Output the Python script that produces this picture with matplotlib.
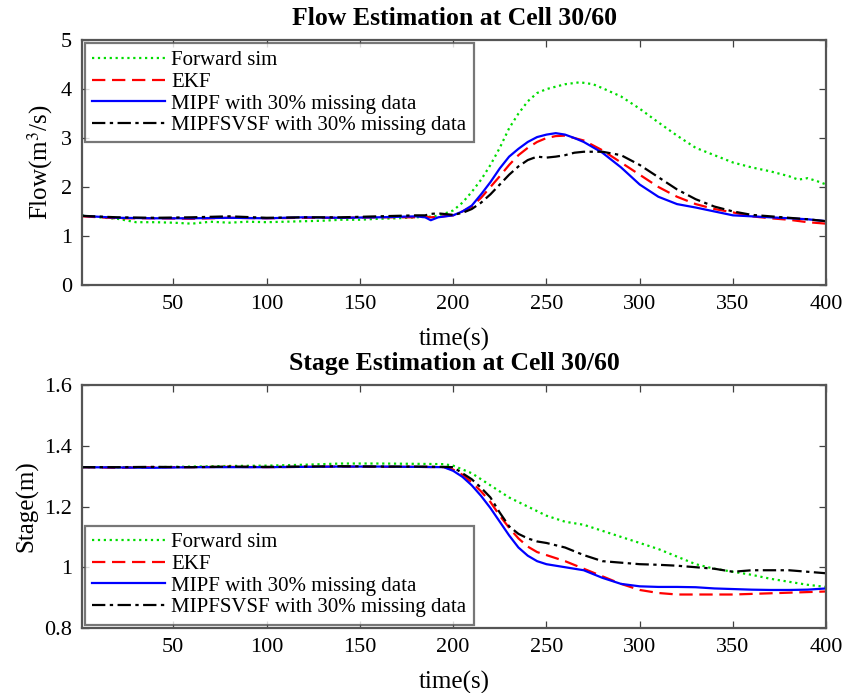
import matplotlib
matplotlib.use("Agg")
import matplotlib.pyplot as plt

plt.rcParams['font.family'] = ['Liberation Serif', 'DejaVu Serif']
plt.rcParams['mathtext.fontset'] = 'stix'

# --- Flow data (m^3/s) ---
t_fwd_q = [1, 10, 20, 30, 40, 50, 60, 70, 80, 90, 100, 110, 120, 130, 140, 150, 160, 170, 180, 190, 195,
           200, 205, 210, 215, 220, 225, 230, 235, 240, 245, 250, 255, 260, 268, 275, 280, 290, 300,
           310, 320, 330, 340, 350, 360, 370, 380, 385, 390, 395, 400]
q_fwd = [1.42, 1.38, 1.35, 1.28, 1.28, 1.27, 1.25, 1.29, 1.27, 1.29, 1.28, 1.29, 1.30, 1.31, 1.33, 1.33, 1.35, 1.36, 1.38, 1.40, 1.45,
         1.52, 1.68, 1.90, 2.15, 2.45, 2.80, 3.20, 3.50, 3.75, 3.92, 4.00, 4.05, 4.10, 4.14, 4.10, 4.02, 3.85, 3.60,
         3.32, 3.05, 2.80, 2.65, 2.50, 2.40, 2.32, 2.22, 2.15, 2.18, 2.12, 2.05]

t_est_q = [1, 20, 40, 60, 80, 100, 120, 140, 160, 180, 185, 188, 192, 200, 205, 210, 215, 220, 225, 230, 235,
           240, 245, 250, 255, 260, 265, 270, 280, 290, 300, 310, 320, 330, 340, 350, 360, 370, 380, 390, 400]
q_ekf = [1.40, 1.36, 1.36, 1.35, 1.37, 1.36, 1.37, 1.37, 1.38, 1.38, 1.39, 1.38, 1.39, 1.42, 1.50, 1.60, 1.78, 2.00, 2.22, 2.45, 2.65,
         2.80, 2.92, 3.00, 3.04, 3.05, 3.00, 2.95, 2.75, 2.50, 2.25, 2.00, 1.80, 1.65, 1.55, 1.48, 1.40, 1.36, 1.33, 1.28, 1.25]
q_mipf = [1.41, 1.37, 1.36, 1.36, 1.37, 1.36, 1.38, 1.37, 1.38, 1.40, 1.38, 1.32, 1.38, 1.42, 1.50, 1.62, 1.85, 2.10, 2.38, 2.62, 2.78,
          2.92, 3.02, 3.07, 3.10, 3.07, 3.00, 2.92, 2.70, 2.40, 2.05, 1.80, 1.65, 1.58, 1.50, 1.42, 1.40, 1.38, 1.36, 1.34, 1.30]
q_svsf = [1.41, 1.38, 1.37, 1.38, 1.40, 1.37, 1.38, 1.38, 1.40, 1.42, 1.42, 1.45, 1.46, 1.43, 1.47, 1.55, 1.68, 1.85, 2.05, 2.25, 2.42,
          2.55, 2.62, 2.60, 2.62, 2.65, 2.70, 2.72, 2.72, 2.65, 2.45, 2.20, 1.95, 1.75, 1.60, 1.50, 1.43, 1.40, 1.37, 1.34, 1.30]

# --- Stage data (m) ---
t_fwd_h = [1, 20, 40, 60, 80, 100, 120, 140, 160, 180, 195, 200, 210, 220, 230, 240, 250, 260, 270, 280, 290,
           300, 310, 320, 330, 340, 350, 360, 370, 380, 390, 400]
h_fwd = [1.330, 1.330, 1.330, 1.332, 1.334, 1.335, 1.338, 1.342, 1.342, 1.341, 1.340, 1.335, 1.310, 1.270, 1.230, 1.200, 1.170, 1.150, 1.140, 1.120, 1.100,
         1.080, 1.060, 1.035, 1.010, 0.995, 0.985, 0.975, 0.962, 0.952, 0.942, 0.935]

t_est_h = [1, 20, 40, 60, 80, 100, 120, 140, 160, 180, 195, 200, 205, 210, 215, 220, 225, 230, 235, 240, 245,
           250, 260, 270, 280, 290, 300, 310, 320, 330, 340, 350, 360, 370, 380, 390, 400]
h_ekf = [1.330, 1.328, 1.330, 1.330, 1.331, 1.330, 1.331, 1.332, 1.331, 1.331, 1.330, 1.322, 1.305, 1.280, 1.250, 1.215, 1.170, 1.130, 1.095, 1.068, 1.050,
         1.040, 1.020, 0.995, 0.970, 0.945, 0.925, 0.915, 0.910, 0.910, 0.910, 0.910, 0.912, 0.914, 0.916, 0.918, 0.920]
h_mipf = [1.330, 1.329, 1.328, 1.330, 1.330, 1.330, 1.331, 1.332, 1.332, 1.331, 1.330, 1.318, 1.298, 1.270, 1.235, 1.195, 1.150, 1.105, 1.065, 1.038, 1.020,
          1.010, 1.000, 0.990, 0.965, 0.945, 0.937, 0.935, 0.935, 0.934, 0.930, 0.928, 0.926, 0.925, 0.925, 0.926, 0.930]
h_svsf = [1.330, 1.330, 1.331, 1.330, 1.332, 1.331, 1.332, 1.333, 1.332, 1.332, 1.331, 1.330, 1.310, 1.290, 1.262, 1.230, 1.180, 1.135, 1.110, 1.095, 1.085,
          1.080, 1.065, 1.040, 1.020, 1.015, 1.010, 1.008, 1.005, 1.000, 0.995, 0.985, 0.990, 0.990, 0.990, 0.985, 0.980]

labels = ['Forward sim', 'EKF', 'MIPF with 30% missing data', 'MIPFSVSF with 30% missing data']
xticks = [50, 100, 150, 200, 250, 300, 350, 400]


def style_axes(ax):
    for s in ax.spines.values():
        s.set_color('#555555')
        s.set_linewidth(1.6)
    ax.tick_params(direction='in', top=True, right=True, length=5, width=0.9,
                   color='#404040', labelsize=16, pad=7)
    ax.set_xlim(1, 400)
    ax.set_xticks(xticks)


def draw(ax, t_fwd, fwd, t_est, ekf, mipf, svsf):
    ax.plot(t_fwd, fwd, color='#00dd00', linestyle=':', linewidth=1.6, label=labels[0])
    ax.plot(t_est, ekf, color='#ff0000', linestyle=(0, (6, 3)), linewidth=1.6, label=labels[1])
    ax.plot(t_est, mipf, color='#0000ff', linestyle='-', linewidth=1.6, label=labels[2])
    ax.plot(t_est, svsf, color='black', linestyle=(0, (6, 2, 1.5, 2)), linewidth=1.6, label=labels[3])


def add_legend(ax, loc):
    leg = ax.legend(loc=loc, fontsize=15, frameon=True, fancybox=False,
                    borderaxespad=0.15, handlelength=3.5, handletextpad=0.3,
                    labelspacing=0.1, borderpad=0.35)
    leg.get_frame().set_edgecolor('#555555')
    leg.get_frame().set_linewidth(1.6)


fig = plt.figure(figsize=(8.44, 6.93), dpi=100)
ax1 = fig.add_axes([0.097, 0.589, 0.882, 0.353])
ax2 = fig.add_axes([0.097, 0.094, 0.882, 0.350])

# --- Flow ---
draw(ax1, t_fwd_q, q_fwd, t_est_q, q_ekf, q_mipf, q_svsf)
style_axes(ax1)
ax1.set_ylim(0, 5)
ax1.set_yticks([0, 1, 2, 3, 4, 5])
ax1.set_title('Flow Estimation at Cell 30/60', fontsize=18.5, fontweight='bold', pad=11)
ax1.set_xlabel('time(s)', fontsize=18, labelpad=10)
ax1.set_ylabel('Flow(m$^3$/s)', fontsize=18, labelpad=4)
add_legend(ax1, 'upper left')

# --- Stage ---
draw(ax2, t_fwd_h, h_fwd, t_est_h, h_ekf, h_mipf, h_svsf)
style_axes(ax2)
ax2.set_ylim(0.8, 1.6)
ax2.set_yticks([0.8, 1.0, 1.2, 1.4, 1.6])
ax2.set_yticklabels(['0.8', '1', '1.2', '1.4', '1.6'])
ax2.set_title('Stage Estimation at Cell 30/60', fontsize=18.5, fontweight='bold', pad=11)
ax2.set_xlabel('time(s)', fontsize=18, labelpad=10)
ax2.set_ylabel('Stage(m)', fontsize=18, labelpad=4)
add_legend(ax2, 'lower left')

fig.savefig('out.png', dpi=100)
